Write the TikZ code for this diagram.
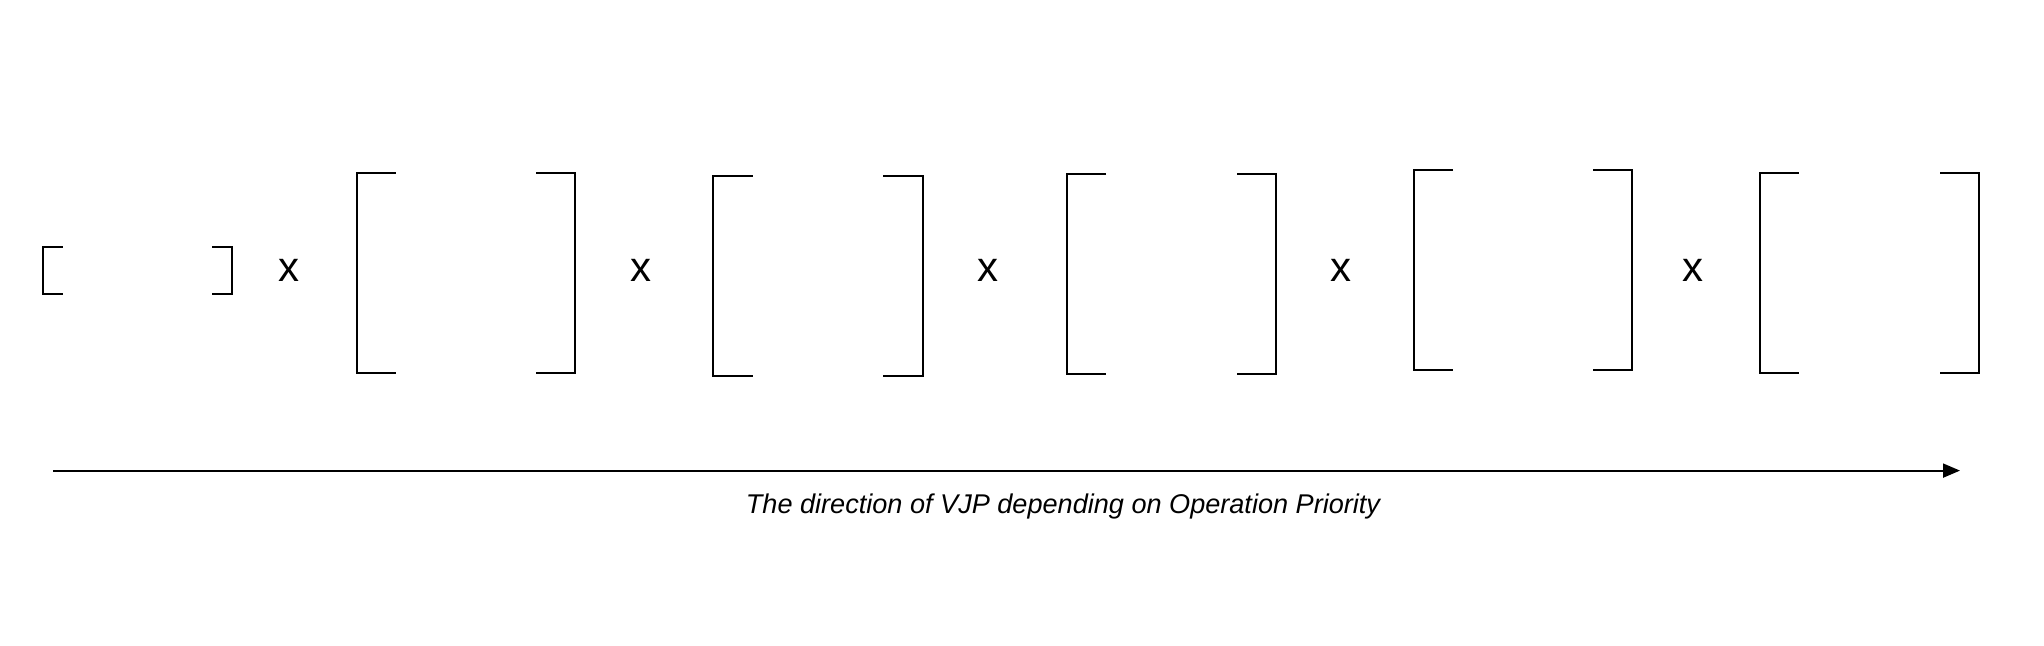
\documentclass[tikz,border=0pt]{standalone}
\usepackage{fontspec}
\setmainfont{Liberation Sans}
\usetikzlibrary{arrows.meta}
\tikzset{
  mat/.style 2 args={draw=none, inner sep=0pt, minimum width=#1*0.5pt, minimum height=#2*0.5pt},
  br/.style={line width=1pt, line cap=butt, line join=miter},
  times/.style={font=\fontsize{21}{25}\selectfont, inner sep=0pt},
  axis/.style={line width=0.9pt, -{Triangle[length=8.5pt,width=7pt]}},
  lbl/.style={font=\fontsize{13.55}{16}\selectfont\itshape, inner sep=0pt, anchor=base}
}
\begin{document}
\begin{tikzpicture}[x=0.5pt, y=-0.5pt]
\useasboundingbox (0,0) rectangle (2044,646);
\node[mat={189}{45.6}] (m0) at (137.5,270.5) {};
\node[mat={218}{199.4}] (m1) at (466,273) {};
\node[mat={210}{199.4}] (m2) at (818,275.7) {};
\node[mat={208.4}{199.3}] (m3) at (1171.8,274.3) {};
\node[mat={217.6}{199.2}] (m4) at (1523.2,270.4) {};
\node[mat={219}{199.4}] (m5) at (1869.5,273) {};
\foreach \n/\t in {m0/20,m1/39,m2/40,m3/39,m4/39,m5/39}{
  \draw[br] ([xshift=\t*0.5pt]\n.north west) -- (\n.north west) -- (\n.south west) -- ([xshift=\t*0.5pt]\n.south west);
  \draw[br] ([xshift=-\t*0.5pt]\n.north east) -- (\n.north east) -- (\n.south east) -- ([xshift=-\t*0.5pt]\n.south east);
}
\node[times] (x1) at (289,270) {x};
\node[times] (x2) at (641,270) {x};
\node[times] (x3) at (988,270) {x};
\node[times] (x4) at (1341,270) {x};
\node[times] (x5) at (1693,270) {x};
\coordinate (a0) at (53.4,470.6);
\coordinate (a1) at (1960,470.6);
\draw[axis] (a0) -- (a1);
\node[lbl] (cap) at (1063,513) {The direction of VJP depending on Operation Priority};
\end{tikzpicture}
\end{document}
